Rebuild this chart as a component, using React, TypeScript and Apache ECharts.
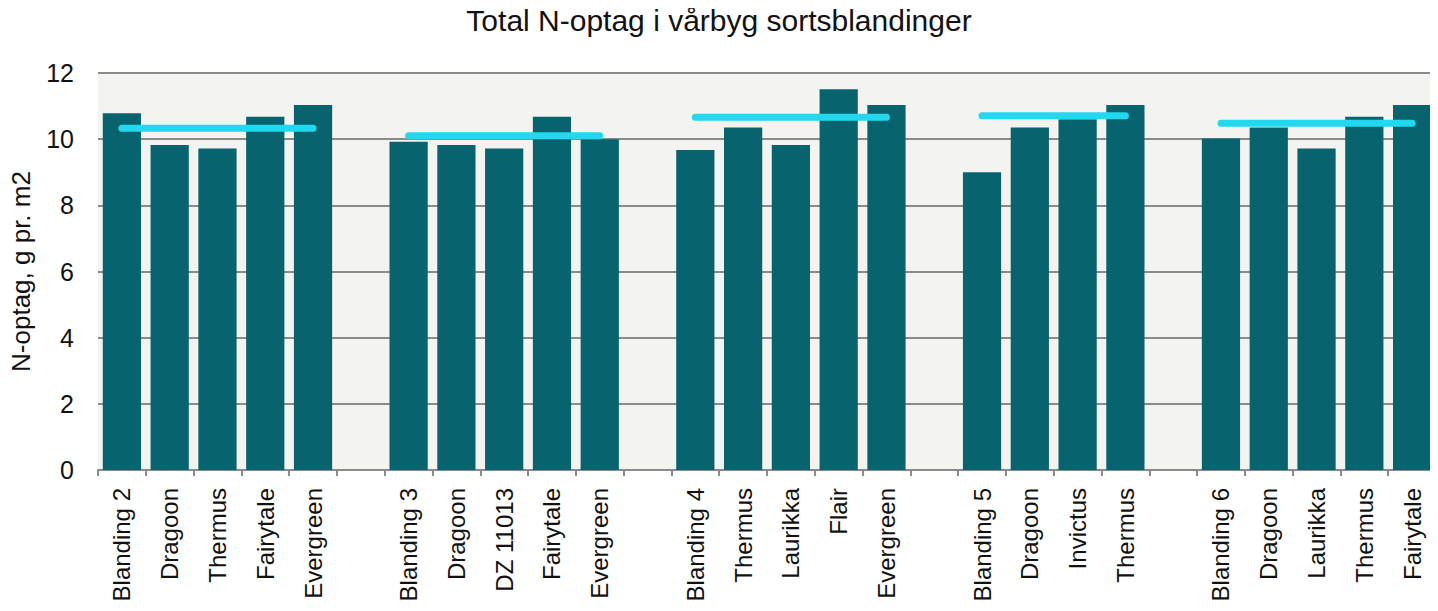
import React, { useEffect, useRef } from "react";
import * as echarts from "echarts";

const title = "Total N-optag i vårbyg sortsblandinger";
const yAxisName = "N-optag, g pr. m2";

const categories = [
  "Blanding 2", "Dragoon", "Thermus", "Fairytale", "Evergreen", "",
  "Blanding 3", "Dragoon", "DZ 11013", "Fairytale", "Evergreen", "",
  "Blanding 4", "Thermus", "Laurikka", "Flair", "Evergreen", "",
  "Blanding 5", "Dragoon", "Invictus", "Thermus", "",
  "Blanding 6", "Dragoon", "Laurikka", "Thermus", "Fairytale",
];

const barValues: (number | null)[] = [
  10.78, 9.82, 9.72, 10.68, 11.03, null,
  9.92, 9.82, 9.72, 10.68, 10.0, null,
  9.67, 10.35, 9.82, 11.51, 11.03, null,
  9.0, 10.35, 10.6, 11.03, null,
  10.02, 10.35, 9.72, 10.68, 11.03,
];

// mean of component varieties per blend, spanning group's first to last category
const groupMeans = [10.33, 10.1, 10.66, 10.71, 10.48];
const groupStarts = [0, 6, 12, 18, 23];
const groupEnds = [4, 10, 16, 21, 27];

const yTicks = [0, 2, 4, 6, 8, 10, 12];

const FONT = "Liberation Sans, Arial, sans-serif";

export default function App() {
  const ref = useRef<HTMLDivElement>(null);
  useEffect(() => {
    if (!ref.current) return;
    const chart = echarts.init(ref.current, null, { renderer: "svg" });
    const lineData: (number | null)[] = categories.map(() => null);
    groupMeans.forEach((m, g) => {
      for (let i = groupStarts[g]; i <= groupEnds[g]; i++) lineData[i] = m;
    });
    chart.setOption({
      animation: false,
      textStyle: { fontFamily: FONT },
      title: {
        text: title,
        left: "center",
        top: 0,
        textStyle: { fontSize: 30, fontWeight: "normal", color: "#111", fontFamily: FONT },
      },
      grid: {
        left: 97,
        right: 2,
        top: 73,
        bottom: 141,
        show: true,
        backgroundColor: "#f3f3ef",
        borderWidth: 0,
      },
      xAxis: {
        type: "category",
        data: categories,
        boundaryGap: true,
        axisLine: { show: true, lineStyle: { color: "#8a8a8a", width: 2 } },
        axisTick: { show: true, length: 6, interval: 0, lineStyle: { color: "#8a8a8a", width: 2 } },
        axisLabel: {
          interval: 0,
          rotate: 90,
          fontSize: 24,
          color: "#111",
          margin: 18,
          fontFamily: FONT,
        },
      },
      yAxis: {
        type: "value",
        min: yTicks[0],
        max: yTicks[yTicks.length - 1],
        interval: 2,
        name: yAxisName,
        nameLocation: "middle",
        nameGap: 64,
        nameTextStyle: { fontSize: 26, color: "#111", fontFamily: FONT },
        axisLine: { show: false },
        axisTick: { show: false },
        axisLabel: { fontSize: 25, color: "#111", margin: 24, fontFamily: FONT },
        splitLine: { show: true, lineStyle: { color: "#8a8a8a", width: 2 } },
      },
      series: [
        {
          type: "bar",
          data: barValues,
          barWidth: "80%",
          itemStyle: { color: "#07646f" },
          z: 2,
        },
        {
          type: "line",
          data: lineData,
          connectNulls: false,
          symbol: "none",
          lineStyle: { color: "#22d8ee", width: 7, cap: "round" },
          z: 3,
        },
      ],
    });
    return () => chart.dispose();
  }, []);
  return <div ref={ref} style={{ width: 1438, height: 611, margin: -8 }} />;
}
